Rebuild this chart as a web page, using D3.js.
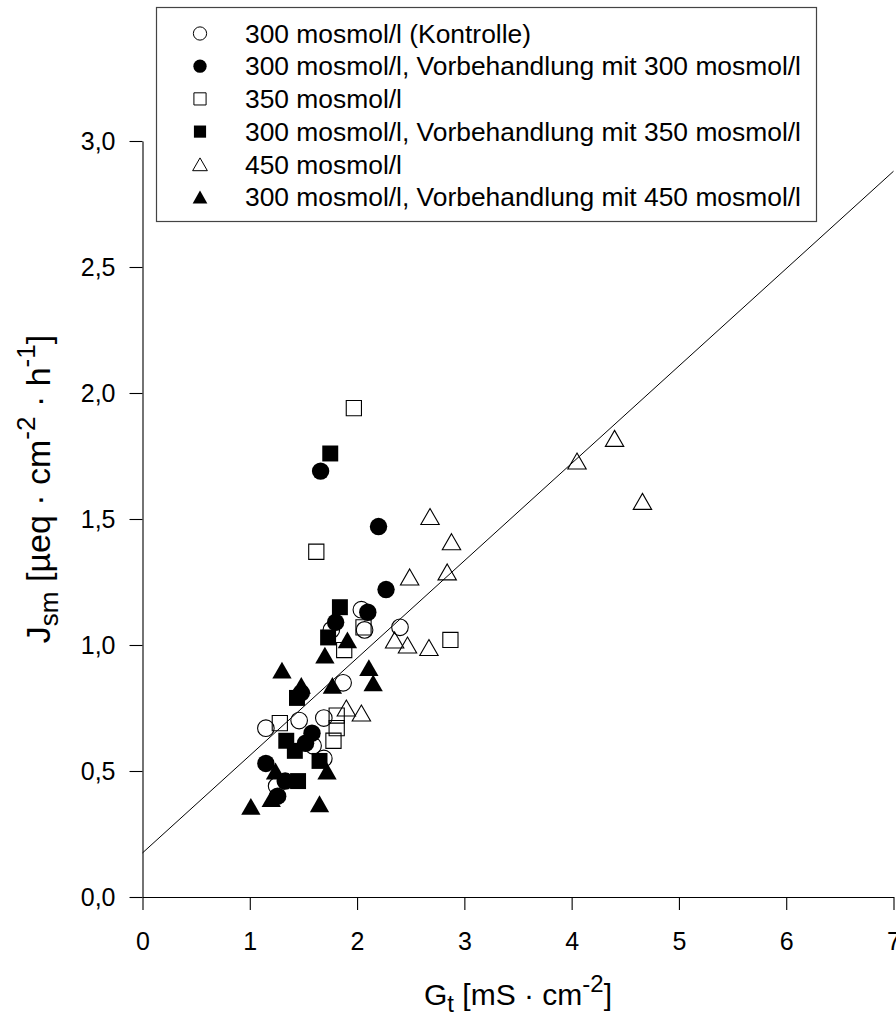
<!DOCTYPE html>
<html>
<head>
<meta charset="utf-8">
<script src="https://cdn.jsdelivr.net/npm/d3@7"></script>
<style>
  body { margin: 0; background: #fff; }
  svg { font-family: "Liberation Sans", Arial, sans-serif; }
</style>
</head>
<body>
<div id="chart"></div>
<script>
// series: [Gt, Jsm] pairs
var kontrolle = [[2.04,1.14],[1.76,1.06],[2.07,1.06],[2.40,1.07],[1.87,0.85],[1.15,0.67],
                 [1.46,0.70],[1.69,0.71],[1.59,0.60],[1.69,0.55],[1.25,0.44]];
var vor300 = [[1.66,1.69],[2.20,1.47],[2.27,1.22],[2.10,1.13],[1.80,1.09],[1.48,0.81],
              [1.58,0.65],[1.52,0.61],[1.15,0.53],[1.33,0.46],[1.26,0.40]];
var osm350 = [[1.97,1.94],[1.62,1.37],[2.06,1.07],[1.88,0.98],[2.87,1.02],[1.28,0.69],
              [1.81,0.72],[1.81,0.67],[1.78,0.62]];
var vor350 = [[1.75,1.76],[1.84,1.15],[1.73,1.03],[1.44,0.79],[1.34,0.62],[1.42,0.58],
              [1.65,0.54],[1.45,0.46]];
var osm450 = [[4.40,1.82],[4.05,1.73],[4.66,1.57],[2.68,1.51],[2.88,1.41],[2.49,1.27],
              [2.84,1.29],[2.35,1.02],[2.47,1.00],[2.67,0.99],[1.90,0.75],[2.04,0.73]];
var vor450 = [[1.91,1.02],[1.70,0.96],[1.30,0.90],[2.11,0.91],[2.15,0.85],[1.77,0.84],
              [1.48,0.84],[1.72,0.50],[1.24,0.50],[1.01,0.36],[1.65,0.37],[1.20,0.39]];

var legendLabels = ["300 mosmol/l (Kontrolle)",
                    "300 mosmol/l, Vorbehandlung mit 300 mosmol/l",
                    "350 mosmol/l",
                    "300 mosmol/l, Vorbehandlung mit 350 mosmol/l",
                    "450 mosmol/l",
                    "300 mosmol/l, Vorbehandlung mit 450 mosmol/l"];

// regression line end points
var fitX = [0, 7];
var fitY = [0.175, 2.88];

var xTicks = [0,1,2,3,4,5,6,7];
var yTicks = [0,0.5,1,1.5,2,2.5,3];

var width = 896, height = 1020;

var series = [
  {data: kontrolle, shape: "circle", fill: false},
  {data: vor300, shape: "circle", fill: true},
  {data: osm350, shape: "square", fill: false},
  {data: vor350, shape: "square", fill: true},
  {data: osm450, shape: "triangle", fill: false},
  {data: vor450, shape: "triangle", fill: true}
];

var x = d3.scaleLinear().domain([0, 7]).range([142.5, 893.5]);
var y = d3.scaleLinear().domain([0, 3]).range([897, 141]);

var svg = d3.select("#chart").append("svg")
  .attr("width", width)
  .attr("height", height);

// marker path, s = size scale
function marker(shape, s) {
  if (shape == "circle") {
    var r = 8.3 * s;
    return "M" + (-r) + ",0A" + r + "," + r + " 0 1,0 " + r + ",0A" + r + "," + r + " 0 1,0 " + (-r) + ",0Z";
  }
  if (shape == "square") {
    var h = 7.6 * s;
    return "M" + (-h) + "," + (-h) + "H" + h + "V" + h + "H" + (-h) + "Z";
  }
  var w = 9.2 * s, t = 8 * s;
  return "M0," + (-t) + "L" + w + "," + t + "L" + (-w) + "," + t + "Z";
}

// axes
var fmt = function(d) { return d3.format(".1f")(d).replace(".", ","); };

svg.append("g")
  .attr("transform", "translate(" + x(0) + ",0)")
  .call(d3.axisLeft(y).tickValues(yTicks).tickFormat(fmt)
        .tickSize(13).tickSizeOuter(0).tickPadding(14));

svg.append("g")
  .attr("transform", "translate(0," + y(0) + ")")
  .call(d3.axisBottom(x).tickValues(xTicks).tickFormat(d3.format("d"))
        .tickSize(13).tickSizeOuter(0).tickPadding(22));

svg.selectAll(".tick text")
  .attr("font-size", 25)
  .attr("font-family", "Liberation Sans, Arial, sans-serif")
  .attr("fill", "#000");
svg.selectAll(".domain, .tick line").attr("stroke", "#000").attr("stroke-width", 1.1);

// regression line
svg.append("line")
  .attr("x1", x(fitX[0])).attr("y1", y(fitY[0]))
  .attr("x2", x(fitX[1])).attr("y2", y(fitY[1]))
  .attr("stroke", "#000")
  .attr("stroke-width", 1);

// points
series.forEach(function(s) {
  svg.append("g").selectAll("path")
    .data(s.data)
    .enter()
    .append("path")
    .attr("transform", function(d) { return "translate(" + x(d[0]) + "," + y(d[1]) + ")"; })
    .attr("d", marker(s.shape, s.fill ? 1.05 : 1))
    .attr("fill", s.fill ? "#000" : "#fff")
    .attr("fill-opacity", s.fill ? 1 : 0)
    .attr("stroke", "#000")
    .attr("stroke-width", s.fill ? 0 : 1.1);
});

// legend
var lg = svg.append("g");
lg.append("rect")
  .attr("x", 156.5).attr("y", 7.5)
  .attr("width", 660).attr("height", 214)
  .attr("fill", "#fff")
  .attr("stroke", "#444")
  .attr("stroke-width", 1.2);

var rows = lg.selectAll("g.row")
  .data(series)
  .enter()
  .append("g")
  .attr("class", "row")
  .attr("transform", function(d, i) { return "translate(200," + (33.5 + i * 32.7) + ")"; });

rows.append("path")
  .attr("d", function(d) { return marker(d.shape, 0.8); })
  .attr("fill", function(d) { return d.fill ? "#000" : "#fff"; })
  .attr("stroke", "#000")
  .attr("stroke-width", function(d) { return d.fill ? 0 : 1; });

rows.append("text")
  .attr("x", 45)
  .attr("dy", "0.35em")
  .attr("font-size", 26.4)
  .text(function(d, i) { return legendLabels[i]; });

// axis titles
var xt = svg.append("text")
  .attr("x", (x(0) + x(7)) / 2)
  .attr("y", 1005)
  .attr("text-anchor", "middle")
  .attr("font-size", 30);
xt.append("tspan").text("G");
xt.append("tspan").attr("font-size", 24).attr("dy", 7).text("t");
xt.append("tspan").attr("dy", -7).text(" [mS \u00b7 cm");
xt.append("tspan").attr("font-size", 24).attr("dy", -13).text("-2");
xt.append("tspan").attr("dy", 13).text("]");

var yt = svg.append("text")
  .attr("transform", "translate(50,489) rotate(-90)")
  .attr("text-anchor", "middle")
  .attr("font-size", 34);
yt.append("tspan").text("J");
yt.append("tspan").attr("font-size", 26).attr("dy", 8).text("sm");
yt.append("tspan").attr("dy", -8).text(" [\u00b5eq \u00b7 cm");
yt.append("tspan").attr("font-size", 26).attr("dy", -15).text("-2");
yt.append("tspan").attr("dy", 15).text(" \u00b7 h");
yt.append("tspan").attr("font-size", 26).attr("dy", -15).text("-1");
yt.append("tspan").attr("dy", 15).text("]");
</script>
</body>
</html>
